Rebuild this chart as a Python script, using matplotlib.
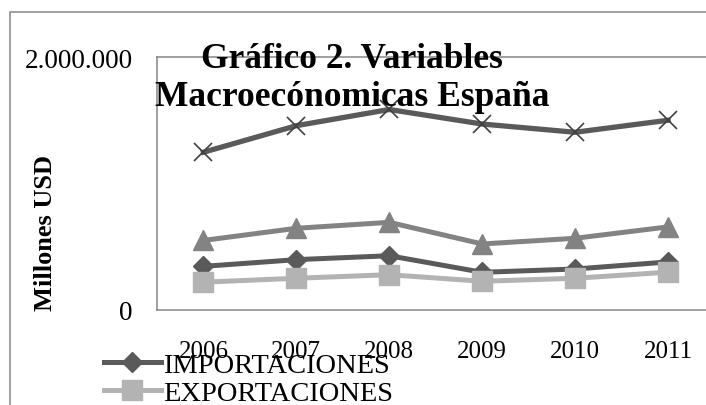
import matplotlib
matplotlib.use('Agg')
import matplotlib.pyplot as plt
from matplotlib.patches import Rectangle
from matplotlib.ticker import FuncFormatter, FixedLocator

# ---- data ----
years = ['2006', '2007', '2008', '2009', '2010', '2011']
importaciones = [345000, 398000, 429000, 298000, 324000, 380000]
exportaciones = [220000, 251000, 279000, 227000, 251000, 299000]
serie_triangulo = [550000, 646000, 693000, 522000, 567000, 657000]
serie_x = [1247000, 1457000, 1585000, 1470000, 1405000, 1500000]
legend_labels = ['IMPORTACIONES', 'EXPORTACIONES']
y_ticks = [0, 2000000]
title = 'Gráfico 2. Variables\nMacroecónomicas España'
ylabel = 'Millones USD'

plt.rcParams['font.family'] = ['Liberation Serif', 'DejaVu Serif']

W, H = 706, 406
fig = plt.figure(figsize=(W / 100, H / 100), dpi=100)


def px(x0, y0, x1, y1):
    return [x0 / W, 1 - y1 / H, (x1 - x0) / W, (y1 - y0) / H]


border = '#868686'
ax = fig.add_axes(px(157, 58, 714.5, 311))
xs = list(range(len(years)))

l1, = ax.plot(xs, importaciones, color='#5a5a5a', lw=3.6, marker='D', ms=10,
              mfc='#5a5a5a', mec='#5a5a5a', zorder=3)
l2, = ax.plot(xs, exportaciones, color='#b3b3b3', lw=3.6, marker='s', ms=14,
              mfc='#b3b3b3', mec='#b3b3b3', zorder=3)
l3, = ax.plot(xs, serie_triangulo, color='#838383', lw=3.6, marker='^', ms=14,
              mfc='#838383', mec='#838383', zorder=3)
l4, = ax.plot(xs, serie_x, color='#5a5a5a', lw=3.8, marker='x', ms=13,
              mec='#404040', mew=1.2, zorder=3)

ax.set_xlim(-0.5, len(years) - 0.5)
ax.set_ylim(y_ticks[0], y_ticks[-1])
ax.set_xticks(xs)
ax.set_xticklabels(years, fontsize=18)
ax.yaxis.set_major_locator(FixedLocator(y_ticks))
ax.yaxis.set_major_formatter(FuncFormatter(lambda v, p: f'{int(v):,}'.replace(',', '.')))
ax.tick_params(axis='y', length=0, pad=17.3, labelsize=19.5)
ax.tick_params(axis='x', length=0, pad=21.5)
for s in ax.spines.values():
    s.set_color(border)
    s.set_linewidth(1.1)

fig.text(352 / W, 1 - 106 / H, title, ha='center', va='baseline', fontsize=25.5,
         fontweight='bold', linespacing=1.22, multialignment='center')
fig.text(46 / W, 1 - 233 / H, ylabel, rotation=90, ha='center', va='center',
         fontsize=19, fontweight='bold')

fig.legend(handles=[l1, l2], labels=legend_labels, loc='upper left',
           bbox_to_anchor=(104 / W, 1 - 353 / H), frameon=False, fontsize=20.5,
           handlelength=2.0, handletextpad=0.08, borderpad=0, labelspacing=0.06,
           borderaxespad=0)

fig.add_artist(Rectangle((10 / W, -0.2), 1.5, 1.2 - 13 / H, transform=fig.transFigure,
                         fill=False, ec=border, lw=1.1))

fig.savefig('out.png', dpi=100)
